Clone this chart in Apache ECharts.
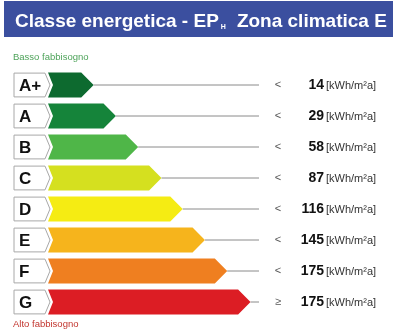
<!DOCTYPE html>
<html>
<head>
<meta charset="utf-8">
<script src="https://cdn.jsdelivr.net/npm/echarts@6/dist/echarts.min.js"></script>
<style>html,body{margin:0;padding:0;background:#fff;}#c{width:400px;height:330px;}</style>
</head>
<body>
<div id="c"></div>
<script>
// Energy classes (top to bottom)
var classes = ['A+', 'A', 'B', 'C', 'D', 'E', 'F', 'G'];
// Upper limits EP_H [kWh/m²a]
var limits = [14, 29, 58, 87, 116, 145, 175, 175];
// Comparison operators
var operators = ['<', '<', '<', '<', '<', '<', '<', '\u2265'];
// Arrow length on the (hidden) scale 0-100
var arrowLength = [22, 32.5, 43, 54, 64, 74.5, 85, 96];
// Arrow colours
var classColors = ['#0d6a2f', '#15843a', '#4fb648', '#d5e01f', '#f5ec13', '#f6b41c', '#ef7f20', '#dc1d24'];
var unitText = '[kWh/m\u00B2a]';
var titleMain = 'Classe energetica - EP';
var titleSub = 'H';
var titleTail = 'Zona climatica E';
var topNote = 'Basso fabbisogno';
var bottomNote = 'Alto fabbisogno';

var chart = echarts.init(document.getElementById('c'), null, {renderer: 'canvas'});

var data = classes.map(function (c, i) { return [arrowLength[i], i]; });

function renderItem(params, api) {
  var idx = api.value(1);
  var tip = api.coord([api.value(0), idx]);
  var cs = params.coordSys;
  var cy = tip[1];
  var band = api.size([0, 1])[1];
  var h = band * 0.8;
  var half = h / 2;
  var left = cs.x;
  var right = cs.x + cs.width;
  var tipX = tip[0];
  var boxL = left - 33;
  var boxR = left - 2;
  var children = [];
  // letter box with chevron
  children.push({
    type: 'polygon',
    shape: {points: [[boxL, cy - half + 0.5], [boxR, cy - half + 0.5], [boxR + 5, cy], [boxR, cy + half - 0.5], [boxL, cy + half - 0.5]]},
    style: {fill: '#fff', stroke: '#a8a8a8', lineWidth: 1}
  });
  children.push({
    type: 'text',
    style: {text: classes[idx], x: boxL + 5, y: cy + 1, fill: '#111', font: 'bold 17px "Liberation Sans", Arial, sans-serif', textAlign: 'left', textVerticalAlign: 'middle'}
  });
  // gray leader line
  children.push({
    type: 'line',
    shape: {x1: tipX, y1: cy, x2: right, y2: cy},
    style: {stroke: '#8a8a8a', lineWidth: 1}
  });
  // arrow
  children.push({
    type: 'polygon',
    shape: {points: [[left + 1, cy - half], [tipX - half, cy - half], [tipX, cy], [tipX - half, cy + half], [left + 1, cy + half], [left + 6, cy]]},
    style: {fill: classColors[idx]}
  });
  // operator
  children.push({
    type: 'text',
    style: {text: operators[idx], x: right + 19, y: cy, fill: '#555', font: '11px "Liberation Sans", Arial, sans-serif', textAlign: 'center', textVerticalAlign: 'middle'}
  });
  children.push({
    type: 'text',
    style: {text: String(limits[idx]), x: right + 65, y: cy, fill: '#111', font: 'bold 14px "Liberation Sans", Arial, sans-serif', textAlign: 'right', textVerticalAlign: 'middle'}
  });
  children.push({
    type: 'text',
    style: {text: unitText, x: right + 67, y: cy + 1, fill: '#333', font: '11px "Liberation Sans Narrow", "Liberation Sans", Arial, sans-serif', textAlign: 'left', textVerticalAlign: 'middle'}
  });
  return {type: 'group', children: children};
}

chart.setOption({
  backgroundColor: '#ffffff',
  animation: false,
  title: {
    text: '{a|' + titleMain + '}{s|' + titleSub + '}{b|' + titleTail + '}',
    left: 15,
    top: 7,
    padding: 0,
    textStyle: {
      rich: {
        a: {color: '#fff', fontSize: 19, fontWeight: 'bold', fontFamily: '"Liberation Sans", Arial, sans-serif', verticalAlign: 'bottom', lineHeight: 24},
        b: {color: '#fff', fontSize: 19, fontWeight: 'bold', fontFamily: '"Liberation Sans", Arial, sans-serif', verticalAlign: 'bottom', lineHeight: 24, padding: [0, 0, 0, 11]},
        s: {color: '#fff', fontSize: 7, fontWeight: 'bold', fontFamily: '"Liberation Sans", Arial, sans-serif', verticalAlign: 'bottom', lineHeight: 16, padding: [0, 0, 0, 2]}
      }
    }
  },
  graphic: [
    {type: 'rect', z: -1, shape: {x: 4, y: 1, width: 389, height: 36}, style: {fill: '#3b4f9f'}},
    {type: 'text', left: 13, top: 52, style: {text: topNote, fill: '#4ea35a', font: '9.5px "Liberation Sans", Arial, sans-serif'}},
    {type: 'text', left: 13, top: 319, style: {text: bottomNote, fill: '#c2352e', font: '9.5px "Liberation Sans", Arial, sans-serif'}}
  ],
  grid: {left: 47, right: 141, top: 69.5, bottom: 12.5, containLabel: false},
  xAxis: {type: 'value', min: 0, max: 100, show: false},
  yAxis: {type: 'category', data: classes, inverse: true, show: false},
  series: [{
    type: 'custom',
    renderItem: renderItem,
    encode: {x: 0, y: 1},
    data: data
  }]
});
</script>
</body>
</html>
